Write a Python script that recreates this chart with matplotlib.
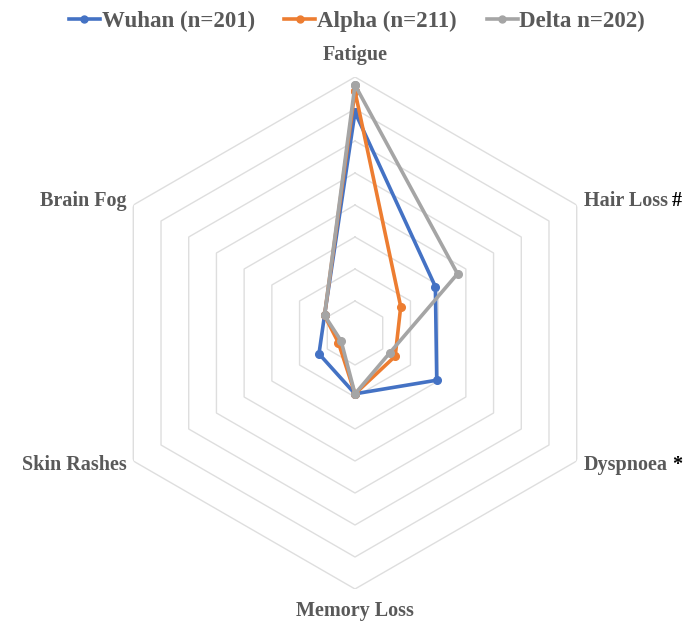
import numpy as np
import matplotlib
matplotlib.use("Agg")
import matplotlib.pyplot as plt
from matplotlib.lines import Line2D

categories = ["Fatigue", "Hair Loss", "Dyspnoea", "Memory Loss", "Skin Rashes", "Brain Fog"]
marks = ["", "#", "*", "", "", ""]
series_names = ["Wuhan (n=201)", "Alpha (n=211)", "Delta n=202)"]
wuhan = [69, 29, 29.5, 19, 13, 11]
alpha = [75.5, 16.5, 14.5, 19, 6, 11]
delta = [77.5, 37, 12.5, 19, 5, 11]
ring_values = [10, 20, 30, 40, 50, 60, 70, 80]

colors = ["#4472C4", "#ED7D31", "#A5A5A5"]
text_col = "#595959"
grid_col = "#DEDEDE"

plt.rcParams['font.family'] = ['Liberation Serif', 'DejaVu Serif']

fig = plt.figure(figsize=(6.89, 6.22), dpi=100)
W, H = 689, 622
cx, cy, R = 355, 333, 256
ax = fig.add_axes([(cx - R) / W, (H - cy - R) / H, 2 * R / W, 2 * R / H], projection='polar')
ax.set_theta_zero_location('N')
ax.set_theta_direction(-1)
ax.set_ylim(0, ring_values[-1])
ax.grid(False)
ax.set_xticks([])
ax.set_yticks([])
ax.spines['polar'].set_visible(False)
ax.patch.set_alpha(0)

n = len(categories)
theta = np.linspace(0, 2 * np.pi, n, endpoint=False)
theta_c = np.concatenate([theta, theta[:1]])

# hexagonal grid
for rv in ring_values:
    ax.plot(theta_c, [rv] * (n + 1), color=grid_col, lw=1.0, zorder=1)

for vals, col in zip([wuhan, alpha, delta], colors):
    v = np.array(vals + vals[:1])
    ax.plot(theta_c, v, color=col, lw=2.6, marker='o', markersize=5.5, zorder=3)

fs = 14.5
label_r = [87, 82.5, 82.5, 87, 82.5, 82.5]
for i, (cat, mk) in enumerate(zip(categories, marks)):
    ang = theta[i]
    s = np.sin(ang)
    if abs(s) < 1e-6:
        ha = 'center'
    elif s > 0:
        ha = 'left'
    else:
        ha = 'right'
    t = ax.text(ang, label_r[i], cat, ha=ha, va='center', fontsize=fs,
                fontweight='bold', color=text_col)
    if mk:
        ax.annotate(mk, xy=(1, 0.5), xycoords=t, xytext=(3, 0),
                    textcoords='offset points', ha='left', va='center',
                    fontsize=fs, fontweight='bold', color='black')

handles = [Line2D([0], [0], color=c, lw=2.6, marker='o', markersize=5) for c in colors]
leg = fig.legend(handles, series_names, loc='center', bbox_to_anchor=(357 / W, 1 - 21 / H),
                 ncol=3, frameon=False, handlelength=1.35,
                 handletextpad=0.08, columnspacing=1.3,
                 prop={'weight': 'bold', 'size': 16.5})
for txt in leg.get_texts():
    txt.set_color(text_col)

fig.savefig("out.png", dpi=100, facecolor='white')
